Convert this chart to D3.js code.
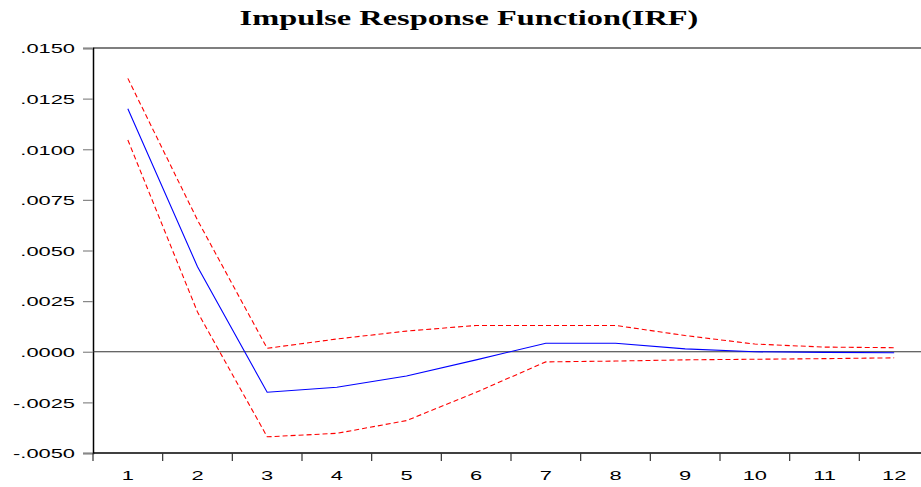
<!DOCTYPE html>
<html>
<head>
<meta charset="utf-8">
<script src="https://cdn.jsdelivr.net/npm/d3@7"></script>
<style>
  html, body { margin: 0; padding: 0; background: #fff; overflow: hidden; }
  svg { display: block; }
  text { font-family: "Liberation Sans", Arial, sans-serif; fill: #000; }
  .title { font-family: "Liberation Serif", "Times New Roman", serif; font-weight: bold; }
</style>
</head>
<body>
<div id="app"></div>
<script>
// periods on the x axis
const periods = [1, 2, 3, 4, 5, 6, 7, 8, 9, 10, 11, 12]
// impulse response (blue) and +/- 2 s.e. bands (red dashed)
const irf   = [0.0120, 0.0042, -0.0020, -0.00175, -0.0012, -0.0004, 0.00042, 0.00042, 0.00014, 0.0000, -0.00003, -0.00005]
const upper = [0.0135, 0.0065, 0.00017, 0.00063, 0.00102, 0.0013, 0.0013, 0.0013, 0.0008, 0.00038, 0.00023, 0.0002]
const lower = [0.01046, 0.00196, -0.0042, -0.00403, -0.0034, -0.0020, -0.0005, -0.00046, -0.0004, -0.00037, -0.00034, -0.0003]
const yTicks = [-0.005, -0.0025, 0, 0.0025, 0.005, 0.0075, 0.01, 0.0125, 0.015]

const width = 921, height = 487
const stretch = 1.62   // the original text is drawn wide

const svg = d3.select('#app').append('svg')
    .attr('width', width)
    .attr('height', height)

const x = d3.scaleBand()
    .domain(periods)
    .range([93, 929])

const y = d3.scaleLinear()
    .domain([-0.005, 0.015])
    .range([453, 48])

const fmt = d => {
  let s = d3.format('.4f')(Math.abs(d)).replace(/^0/, '')
  return (d < 0 ? '-' : '') + s
}

// title
svg.append('text')
    .attr('class', 'title')
    .attr('transform', 'translate(469,25) scale(' + stretch + ',1)')
    .attr('text-anchor', 'middle')
    .attr('font-size', 20)
    .text('Impulse Response Function(IRF)')

// frame: top border and left axis line
svg.append('line')
    .attr('x1', 93).attr('x2', width)
    .attr('y1', y(0.015)).attr('y2', y(0.015))
    .attr('stroke', '#000').attr('stroke-width', 1.2)

// y axis
const yAxis = svg.append('g')
    .attr('transform', 'translate(93,0)')
    .call(d3.axisLeft(y).tickValues(yTicks).tickFormat(fmt).tickSize(10).tickPadding(8))
yAxis.select('.domain').attr('stroke', '#000').attr('stroke-width', 1.5)
yAxis.selectAll('.tick line').attr('stroke', '#888').attr('stroke-width', 1.2)
yAxis.selectAll('.tick text')
    .attr('font-size', 13.5)
    .attr('font-family', '"Liberation Sans", Arial, sans-serif')
    .attr('x', -18 / stretch)
    .attr('dy', '0.36em')
    .attr('transform', 'scale(' + stretch + ',1)')

// x axis: ticks sit between periods
const xAxis = svg.append('g')
    .attr('transform', 'translate(0,' + y(-0.005) + ')')
xAxis.append('line')
    .attr('x1', 93).attr('x2', width)
    .attr('stroke', '#000').attr('stroke-width', 1.5)
xAxis.selectAll('.xtick')
  .data(periods)
  .enter().append('line')
    .attr('class', 'xtick')
    .attr('x1', d => x(d)).attr('x2', d => x(d))
    .attr('y1', 0).attr('y2', 8)
    .attr('stroke', '#333').attr('stroke-width', 1.2)
xAxis.selectAll('.xlabel')
  .data(periods)
  .enter().append('text')
    .attr('class', 'xlabel')
    .attr('font-size', 13.5)
    .attr('text-anchor', 'middle')
    .attr('transform', d => 'translate(' + (x(d) + x.bandwidth() / 2) + ',27) scale(' + stretch + ',1)')
    .text(d => d)

// zero line
svg.append('line')
    .attr('x1', 93).attr('x2', width)
    .attr('y1', y(0)).attr('y2', y(0))
    .attr('stroke', '#333').attr('stroke-width', 1)

const line = d3.line()
    .x((d, i) => x(periods[i]) + x.bandwidth() / 2)
    .y(d => y(d))

svg.selectAll('.band')
  .data([upper, lower])
  .enter().append('path')
    .attr('class', 'band')
    .attr('d', line)
    .attr('fill', 'none')
    .attr('stroke', '#ff0000')
    .attr('stroke-width', 1.1)
    .attr('stroke-dasharray', '5,3')

svg.append('path')
    .attr('d', line(irf))
    .attr('fill', 'none')
    .attr('stroke', '#0000ff')
    .attr('stroke-width', 1.1)
</script>
</body>
</html>
